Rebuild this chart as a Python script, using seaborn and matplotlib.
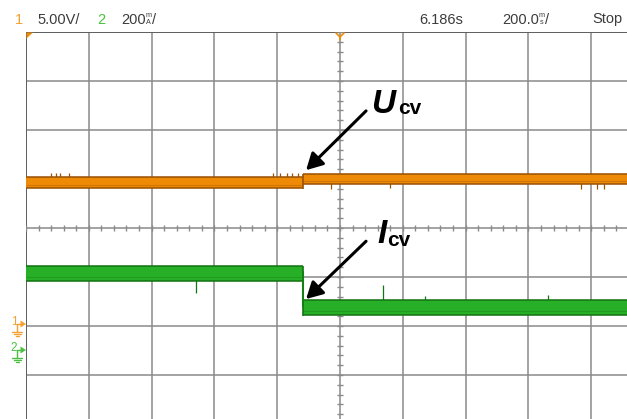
import numpy as np
import pandas as pd
import matplotlib
matplotlib.use("Agg")
import matplotlib.pyplot as plt
import seaborn as sns

# Scope settings: 10 x 8 divisions, trigger at screen centre
TIME_PER_DIV = 200.0      # ms/div
VOLT_PER_DIV = 5.0        # V/div, channel 1
CURR_PER_DIV = 200.0      # mA/div, channel 2
CH1_GROUND = -1.96        # ground marker position, div
CH2_GROUND = -2.51

# Switching instant, ms (relative to trigger)
step_ms = -118.0

# Channel 1: U_cv before / after the step (V) and noise band height (V)
u_levels = [14.45, 14.80]
u_band = [1.10, 1.00]
# Channel 2: I_cv before / after the step (mA) and noise band height (mA)
i_levels = [316.0, 178.0]
i_band = [62.0, 62.0]

# Glitches riding on the traces: time (ms) and peak value
u_glitch_t = [-920, -904, -892, -863, -213, -191, -169, -153, -134,
              -29, 159, 768, 818, 841]
u_glitch_v = [15.4, 15.4, 15.4, 15.4, 15.4, 15.4, 15.4, 15.4, 15.4,
              13.8, 13.9, 13.8, 13.8, 13.8]
i_glitch_t = [-459, 137, 271, 662]
i_glitch_v = [236.0, 270.0, 224.0, 230.0]

# Header readouts
ch1_scale = "5.00V/"
ch2_scale = "200"
time_pos = "6.186s"
time_scale = "200.0"
run_state = "Stop"

ORANGE = "#ee8a06"
ORANGE_DARK = "#9a5204"
GREEN = "#27b027"
GREEN_DARK = "#137413"
GRID = "#8a8a8a"
TEXT = "#3c3c3c"
HDR_ORANGE = "#f5a030"
HDR_GREEN = "#4cc040"

sns.set_theme(style="white")
plt.rcParams["font.family"] = ["Liberation Sans", "DejaVu Sans"]

W, H = 627, 419
fig = plt.figure(figsize=(W / 100, H / 100), dpi=100)
fig.patch.set_facecolor("white")

# graticule axes (right and bottom edges fall outside the visible frame)
ax = fig.add_axes([26 / W, 1 - 424 / H, 628 / W, 392 / H])
ax.set_xlim(-5 * TIME_PER_DIV, 5 * TIME_PER_DIV)
ax.set_ylim(-4, 4)
ax.set_xticks([]); ax.set_yticks([])
for s in ax.spines.values():
    s.set_visible(False)
ax.set_facecolor("white")

for xv in np.arange(-5, 6) * TIME_PER_DIV:
    ax.axvline(xv, color=GRID, lw=1.1, zorder=1)
for yv in np.arange(-4, 5):
    ax.axhline(yv, color=GRID, lw=1.1, zorder=1)
ax.axvline(-5 * TIME_PER_DIV, color="#5a5a5a", lw=1.3, zorder=1)
ax.axhline(4, color="#5a5a5a", lw=1.3, zorder=1)

# minor ticks on the centre cross
xt = np.arange(-5, 5.01, 0.2) * TIME_PER_DIV
ax.vlines(xt, -0.07, 0.07, color=GRID, lw=1.0, zorder=1)
yt = np.arange(-4, 4.01, 0.2)
ax.hlines(yt, -0.05 * TIME_PER_DIV, 0.05 * TIME_PER_DIV, color=GRID, lw=1.0, zorder=1)


def to_div(v, per_div, ground):
    return np.asarray(v, float) / per_div + ground


def draw_trace(levels, bands, per_div, ground, fill_c, edge_c, g_t, g_v, label):
    t0, t1 = -5 * TIME_PER_DIV, 5 * TIME_PER_DIV
    segs = [(t0, step_ms), (step_ms, t1)]
    rows = []
    for (a, b), lev, bd in zip(segs, levels, bands):
        mid = to_div(lev, per_div, ground)
        half = bd / per_div / 2
        ax.fill_between([a, b], mid - half, mid + half, color=fill_c, lw=0, zorder=3)
        ax.hlines([mid - half, mid + half], a, b, color=edge_c, lw=1.4, alpha=0.8, zorder=3)
        ax.hlines([mid - half * 0.45], a, b, color=edge_c, lw=0.8, alpha=0.35, zorder=3)
        rows += [(a, float(mid + half * 0.2)), (b, float(mid + half * 0.2))]
    df = pd.DataFrame(rows, columns=["t", "div"])
    sns.lineplot(data=df, x="t", y="div", ax=ax, color=fill_c, lw=1.5,
                 estimator=None, sort=False, zorder=4, label=label, legend=False)
    # switching edge
    mids = to_div(levels, per_div, ground)
    halves = np.asarray(bands) / per_div / 2
    lo = min(mids - halves); hi = max(mids + halves)
    ax.vlines(step_ms, lo - 0.03, hi, color=edge_c, lw=1.2, zorder=4)
    # glitches
    for t, v in zip(g_t, g_v):
        seg = 0 if t < step_ms else 1
        yv = float(to_div(v, per_div, ground))
        base = float(mids[seg])
        ax.vlines(t, base, yv, color=edge_c, lw=0.9, zorder=2.5)


draw_trace(u_levels, u_band, VOLT_PER_DIV, CH1_GROUND, ORANGE, ORANGE_DARK,
           u_glitch_t, u_glitch_v, "U_cv")
draw_trace(i_levels, i_band, CURR_PER_DIV, CH2_GROUND, GREEN, GREEN_DARK,
           i_glitch_t, i_glitch_v, "I_cv")
ax.set_xlabel(""); ax.set_ylabel("")

# arrows pointing at the switching edges
arrow = dict(arrowstyle="-|>,head_length=0.55,head_width=0.3", lw=2.2, color="black",
             shrinkA=0, shrinkB=0, mutation_scale=18)
ax.annotate("", xy=(-108, 1.18), xytext=(83, 2.39), arrowprops=arrow, zorder=6)
ax.annotate("", xy=(-108, -1.45), xytext=(83, -0.27), arrowprops=arrow, zorder=6)

# overlay in pixel units for readouts and markers
ov = fig.add_axes([0, 0, 1, 1])
ov.set_xlim(0, W); ov.set_ylim(H, 0)
ov.axis("off")
ov.patch.set_alpha(0)

hdr = dict(fontsize=10.5, va="center", ha="left")
ov.text(15, 19.5, "1", color=HDR_ORANGE, **hdr)
ov.text(37, 19.5, ch1_scale, color=TEXT, **hdr)
ov.text(97, 19.5, "2", color=HDR_GREEN, **hdr)
ov.text(121, 19.5, ch2_scale, color=TEXT, **hdr)
small = dict(color=TEXT, fontsize=5.2, ha="center", va="center")
ov.text(148.5, 15.2, "m", **small)
ov.text(148.5, 22.8, "A", **small)
ov.text(152, 19.5, "/", color=TEXT, **hdr)
ov.text(463, 19.5, time_pos, color=TEXT, fontsize=10.5, va="center", ha="right")
ov.text(502, 19.5, time_scale, color=TEXT, **hdr)
ov.text(541.5, 15.2, "m", **small)
ov.text(541.5, 22.8, "s", **small)
ov.text(545, 19.5, "/", color=TEXT, **hdr)
ov.text(592, 19.5, run_state, color=TEXT, **hdr)

# trigger markers
ov.fill([26.5, 33, 26.5], [32.5, 32.5, 38.5], color=ORANGE, lw=0)
ov.plot([336, 340, 344], [33, 37, 33], color=ORANGE, lw=1.2)
ov.plot([340, 340], [37, 40], color=ORANGE, lw=1.2)


def ground_marker(y, num, col):
    ov.text(14, y - 2, num, color=col, fontsize=8.5, ha="center", va="center")
    ov.fill([20.5, 26, 20.5], [y - 3.5, y, y + 3.5], color=col, lw=0)
    ov.plot([17, 21], [y, y], color=col, lw=1.0)
    ov.plot([17, 17], [y, y + 8], color=col, lw=1.0)
    for k, w in enumerate([5, 3.5, 1.5]):
        ov.plot([17 - w, 17 + w], [y + 8 + 2 * k, y + 8 + 2 * k], color=col, lw=1.0)


ground_marker(324, "1", HDR_ORANGE)
ground_marker(350, "2", HDR_GREEN)

# trace labels
lab = dict(color="black", va="baseline", ha="left")
ov.text(371, 113, "U", fontsize=24, fontweight="bold", fontstyle="italic", **lab)
ov.text(398, 114, "cv", fontsize=15, fontweight="bold", **lab)
ov.text(377, 243, "I", fontsize=24, fontweight="bold", fontstyle="italic", **lab)
ov.text(387, 246, "cv", fontsize=15, fontweight="bold", **lab)

fig.savefig("out.png", dpi=100)
